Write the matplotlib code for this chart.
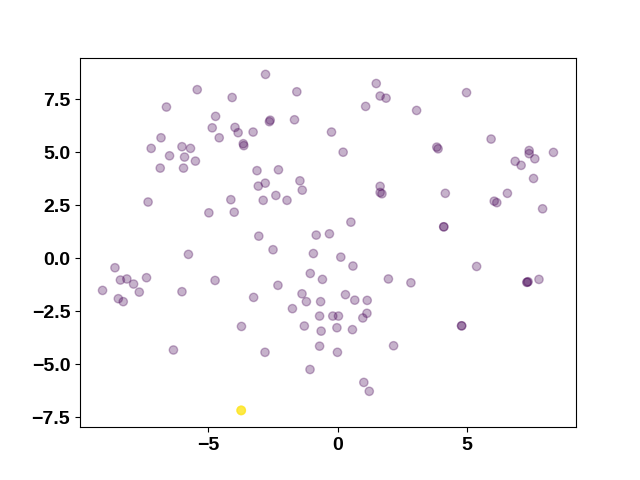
import numpy as np
import matplotlib
matplotlib.use("Agg")
import matplotlib.pyplot as plt

# point coordinates (overlapping repeats kept)
x_vals = [
    -2.79, -5.43, -4.08, -1.58, -6.62, -4.72, -2.61, -2.64, -1.67, -4.85,
    -3.97, -3.85, -3.27, -6.83, -4.58, -3.65, -3.63, -7.21, -6.02, -5.69,
    -6.50, -5.92, -5.50, -6.86, -5.96, -3.12, -2.29, -1.46, -1.37, -2.80,
    -3.07, -2.39, -2.88, -1.96, -4.13, -7.33, -4.98, -4.00, -3.05, -2.50,
    -5.77, -0.83, -0.94, -8.61,
    1.49, 1.64, 1.87, 1.08, 3.05, 4.98, -0.24, 0.21, 3.83, 3.88,
    5.93, 7.40, 7.40, 8.34, 7.62, 6.86, 7.09, 7.57, 1.64, 1.64,
    1.71, 4.16, 6.56, 6.05, 6.15, 7.92, 4.10, 4.10, 0.51, -0.32,
    0.12, 0.59, 5.37,
    -9.09, -8.40, -8.15, -7.89, -7.67, -7.39, -8.48, -8.29, -6.02, -4.74,
    -6.35, -3.72, -3.25, -2.81, -2.31, -1.75, -1.38, -1.21, -1.06, -1.29,
    -1.07, -0.59, 1.96, 2.83, -0.66, 0.30, 0.66, 1.14, -0.70, -0.19,
    0.03, 1.13, 0.97, -0.64, -0.03, 0.57, -0.70, -0.01, 2.16, 1.01,
    1.22, 7.31, 7.36, 7.33, 7.78, 4.79, 4.79,
]
y_vals = [
    8.68, 7.96, 7.59, 7.86, 7.14, 6.70, 6.52, 6.45, 6.54, 6.16,
    6.18, 5.93, 5.96, 5.69, 5.69, 5.41, 5.32, 5.19, 5.27, 5.19,
    4.84, 4.78, 4.59, 4.26, 4.26, 4.14, 4.18, 3.66, 3.22, 3.55,
    3.41, 2.97, 2.74, 2.74, 2.77, 2.66, 2.15, 2.18, 1.05, 0.41,
    0.19, 1.10, 0.23, -0.44,
    8.25, 7.66, 7.56, 7.17, 6.98, 7.82, 5.96, 5.01, 5.25, 5.17,
    5.63, 5.09, 4.94, 5.00, 4.70, 4.58, 4.39, 3.77, 3.40, 3.11,
    3.05, 3.07, 3.07, 2.70, 2.63, 2.34, 1.49, 1.49, 1.71, 1.16,
    0.06, -0.36, -0.38,
    -1.51, -1.02, -0.97, -1.21, -1.59, -0.91, -1.90, -2.04, -1.57, -1.04,
    -4.32, -3.21, -1.84, -4.43, -1.27, -2.37, -1.67, -2.04, -0.71, -3.19,
    -5.24, -0.99, -0.97, -1.15, -2.04, -1.71, -1.97, -1.98, -2.72, -2.72,
    -2.72, -2.59, -2.81, -3.43, -3.27, -3.36, -4.14, -4.43, -4.12, -5.85,
    -6.27, -1.13, -1.10, -1.12, -0.99, -3.18, -3.18,
]
# the outlier cluster: several points stacked on the same spot
outlier_x = [-3.73, -3.73, -3.73, -3.73, -3.73]
outlier_y = [-7.17, -7.17, -7.17, -7.17, -7.17]

all_x = x_vals + outlier_x
all_y = y_vals + outlier_y
# colour value: low for the main cloud, high for the outlier
c_vals = [0.0] * len(x_vals) + [1.0] * len(outlier_x)

plt.rcParams['font.family'] = ['Liberation Sans', 'DejaVu Sans']
plt.rcParams['font.weight'] = 'bold'
plt.rcParams['font.size'] = 14

fig, ax = plt.subplots(figsize=(6.4, 4.8), dpi=100)
ax.scatter(np.array(all_x), np.array(all_y), c=c_vals, cmap='viridis', alpha=0.3)
ax.set_yticks([-7.5, -5.0, -2.5, 0.0, 2.5, 5.0, 7.5])
ax.set_xticks([-5, 0, 5])

fig.savefig("out.png")
